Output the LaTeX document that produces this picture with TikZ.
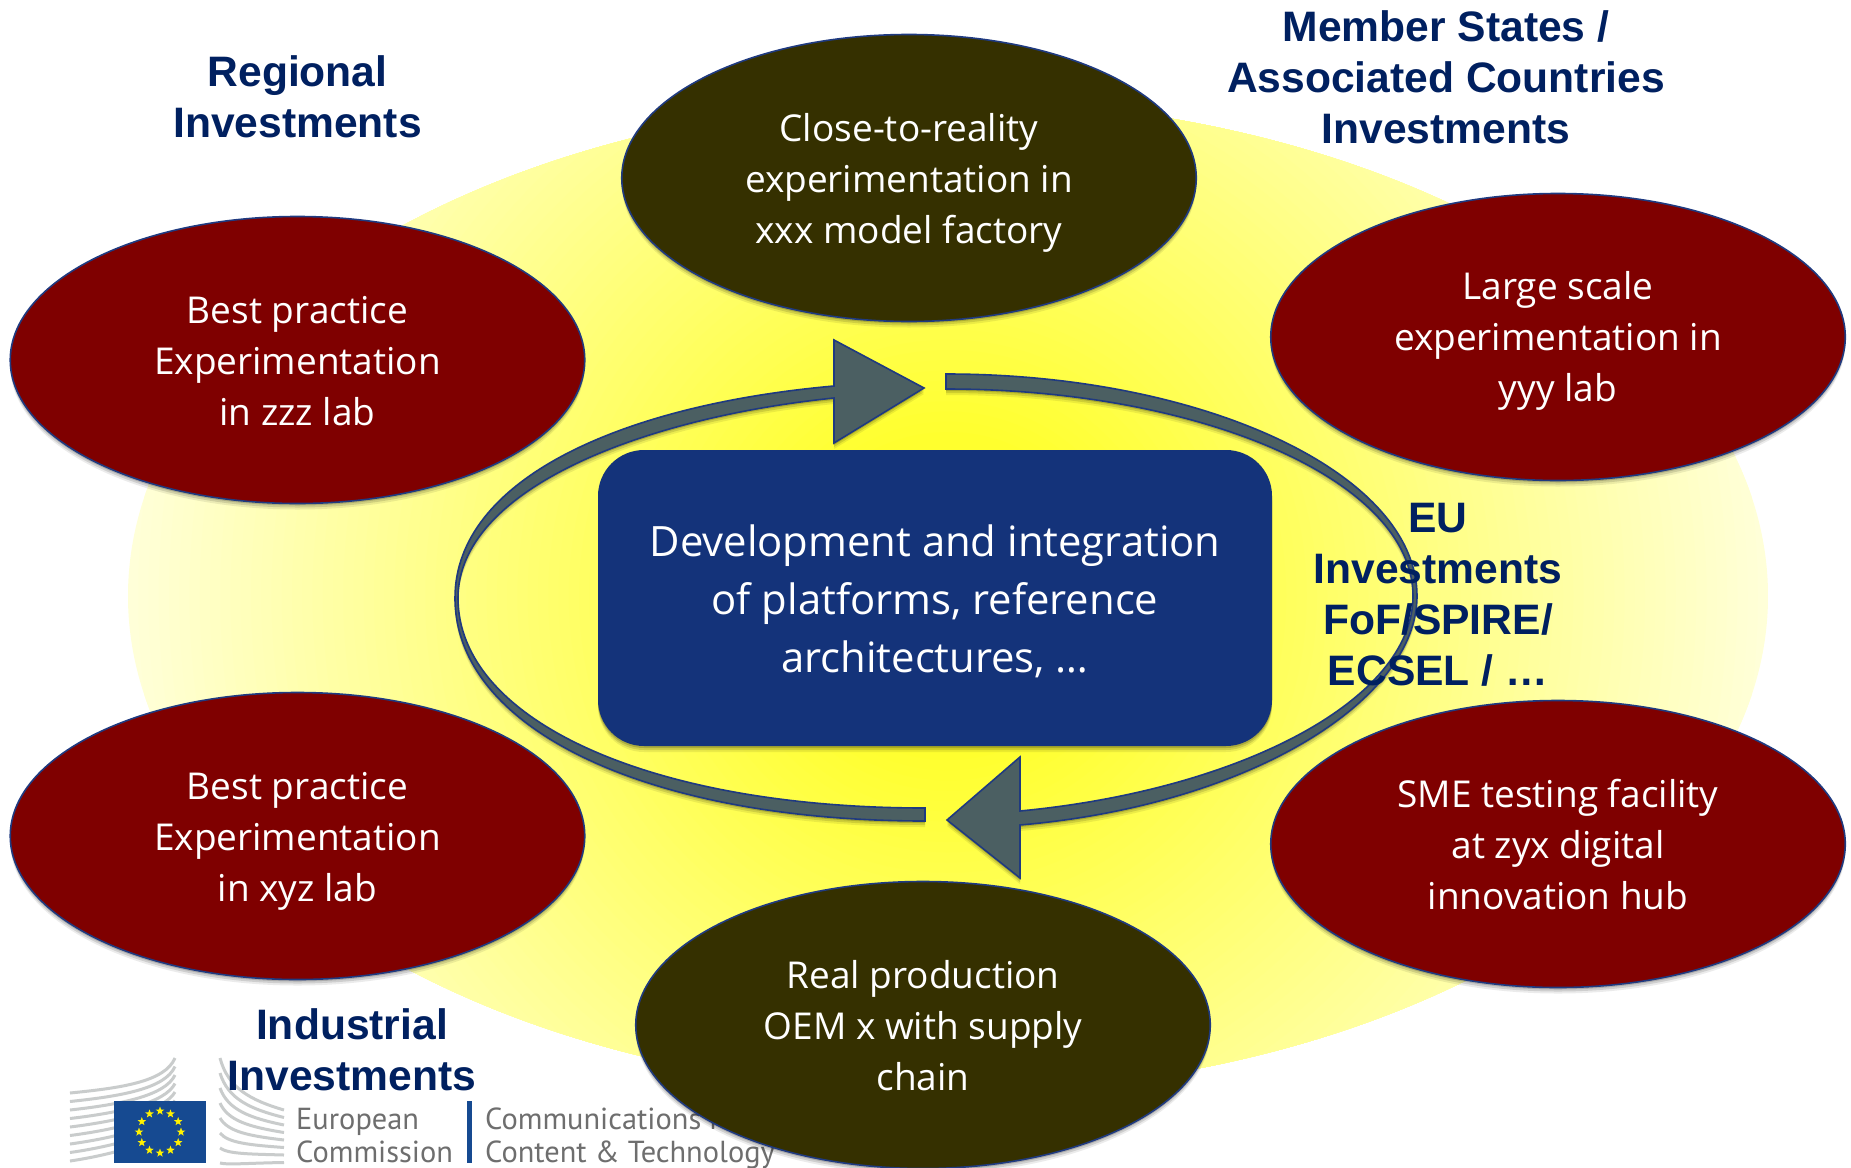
\documentclass[tikz,border=0pt]{standalone}
\usepackage{fontspec}
\setmainfont{Open Sans}
\newfontfamily\labfont{Liberation Sans}[BoldFont={Liberation Sans Bold}]
\newfontfamily\logofont{PT Sans}
\usetikzlibrary{shapes.geometric,shadows}
\definecolor{navy}{HTML}{002060}
\definecolor{edgeblue}{HTML}{1F3A80}
\definecolor{boxblue}{HTML}{14337A}
\definecolor{wine}{HTML}{7F0000}
\definecolor{olive}{HTML}{353000}
\definecolor{steel}{HTML}{4B5F62}
\definecolor{yc}{HTML}{FFFF2E}
\definecolor{ye}{HTML}{FFFFD8}
\definecolor{logogray}{HTML}{6E6E6E}
\definecolor{stripe}{HTML}{C9CCCC}
\definecolor{flagblue}{HTML}{164A91}
\tikzset{
  softshadow/.style={
    general shadow={shadow yshift=-6pt,opacity=.08,fill=black},
    general shadow={shadow yshift=-4pt,opacity=.12,fill=black},
    general shadow={shadow yshift=-2pt,opacity=.16,fill=black}},
  blob/.style={ellipse,draw=edgeblue,line width=1.6pt,inner sep=0pt,minimum width=574.5pt,minimum height=287pt,softshadow},
  redblob/.style={blob,fill=wine},
  oliveblob/.style={blob,fill=olive},
  blobtext/.style={text=white,align=center,font=\fontsize{37}{51}\selectfont},
  lab/.style={text=navy,align=center,font=\labfont\bfseries\fontsize{42.6}{51}\selectfont},
  loopshape/.style={fill=steel,draw=edgeblue,line width=1.6pt,line join=miter,softshadow},
  logotxt/.style={anchor=base west,text=logogray,inner sep=0pt,font=\logofont\fontsize{30.4}{32}\selectfont},
  stripeline/.style={draw=stripe,line width=3pt}
}
\begin{document}
\begin{tikzpicture}[x=1pt,y=-1pt]
\useasboundingbox (0,0) rectangle (1851,1167);
\fill[white] (0,0) rectangle (1851,1167);
% glow: circular gradient clipped to the ellipse
\begin{scope}
\clip (948,596) ellipse [x radius=820,y radius=496];
\foreach \i in {80,79,...,1}{
  \pgfmathsetmacro{\rr}{\i/80}
  \pgfmathsetmacro{\pp}{max(0,(\rr-0.2)/0.8*100)}
  \fill[ye!\pp!yc] (948,596) circle [radius={820*\rr}];
}
\end{scope}
% logo
\foreach \k in {0,...,8}{
  \draw[stripeline] (70,{1093+8.5*\k}) .. controls (120,{1088+8.2*\k}) and (165,{1082+7*\k}) .. (175,{1058+8.5*\k});
}
\foreach \k in {0,...,7}{
  \draw[stripeline] (220,{1058+15*\k}) .. controls (228,{1088+11*\k}) and (250,{1100+9*\k}) .. (284,{1110+7.5*\k});
}
\fill[flagblue] (114,1101) rectangle (206,1163);
\foreach \a in {0,30,...,330}{
  \node[star,star points=5,star point ratio=2.4,fill=yellow,inner sep=0pt,minimum size=9pt] (s\a) at ({160+21*sin(\a)},{1132-21*cos(\a)}) {};
}
\node[logotxt] (ec1) at (296,1129) {European};
\node[logotxt] (ec2) at (296,1162) {Commission};
\fill[flagblue] (467,1101) rectangle (472,1163);
\node[logotxt] (dg1) at (485,1129) {Communications N};
\node[logotxt] (dg2) at (485,1162) {Content \& Technology};
% centre box
\node[fill=boxblue,rounded corners=46pt,minimum width=674pt,minimum height=296pt,inner sep=0pt,softshadow] (core) at (935,598) {};
\node[text=white,align=center,font=\fontsize{41.8}{58}\selectfont] (coretext) at (935,601.5)
  {Development and integration\\of platforms, reference\\architectures, \dots};
% loop arrows
\path[loopshape] (946,374) .. controls (1205,374) and (1417,474) .. (1417,596)
  .. controls (1417,700) and (1250,805) .. (1020,825)
  -- (1020,878) -- (947,820) -- (1020,757) -- (1020,811)
  .. controls (1240,790) and (1413,700) .. (1413,596)
  .. controls (1413,480) and (1200,389) .. (946,389) -- cycle;
\path[loopshape] (925,821) .. controls (650,821) and (455,730) .. (455,598)
  .. controls (455,480) and (620,405) .. (834,386)
  -- (834,340) -- (924,388) -- (834,443) -- (834,398)
  .. controls (640,418) and (458,490) .. (458,598)
  .. controls (458,720) and (650,808) .. (925,808) -- cycle;
% ellipses
\node[oliveblob] (top) at (909,178) {};
\node[redblob] (lt) at (297.5,360) {};
\node[redblob] (lb) at (297.5,836) {};
\node[redblob] (rt) at (1558,337) {};
\node[redblob] (rb) at (1558,844) {};
\node[oliveblob] (bot) at (923,1025) {};
\node[blobtext] (toptext) at (909,182.5) {Close-to-reality\\experimentation in\\xxx model factory};
\node[blobtext] (lttext) at (297.5,361) {Best practice\\Experimentation\\in zzz lab};
\node[blobtext] (lbtext) at (297.5,841) {Best practice\\Experimentation\\in xyz lab};
\node[blobtext] (rttext) at (1558,341) {Large scale\\experimentation in\\yyy lab};
\node[blobtext] (rbtext) at (1558,845) {SME testing facility\\at zyx digital\\innovation hub};
\node[blobtext] (bottext) at (923,1026) {Real production\\OEM x with supply\\chain};
% labels
\node[lab] (reg) at (297.5,97) {Regional\\Investments};
\node[lab] (ms) at (1446,77) {Member States /\\Associated Countries\\Investments};
\node[lab] (eu) at (1438,594.5) {EU\\Investments\\FoF/SPIRE/\\ECSEL / \dots};
\node[lab] (ind) at (352,1050) {Industrial\\Investments};
\end{tikzpicture}
\end{document}
